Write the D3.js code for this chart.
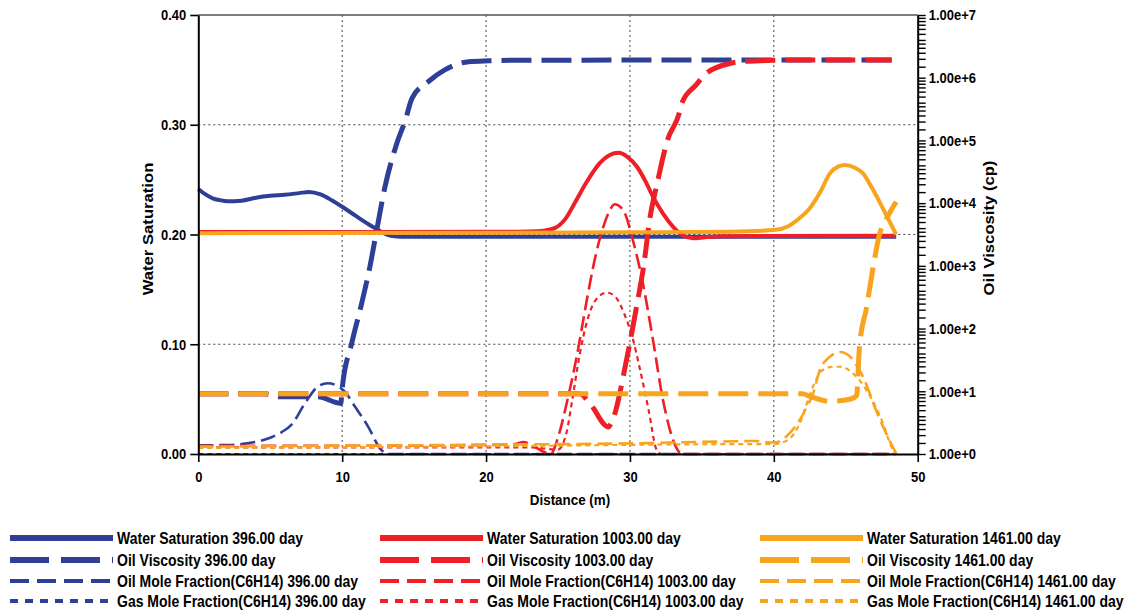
<!DOCTYPE html>
<html><head><meta charset="utf-8">
<script src="https://cdn.jsdelivr.net/npm/d3@7"></script>
<style>
body{margin:0;background:#fff;}
svg{display:block;font-family:"Liberation Sans",Arial,sans-serif;}
</style>
</head><body>
<svg id="chart" width="1129" height="613"></svg>
<script>
// ---------- data ----------
const xTicks = [0, 10, 20, 30, 40, 50];
const yTicks = [0, 0.1, 0.2, 0.3, 0.4];
const yRightMajor = [1, 10, 100, 1e3, 1e4, 1e5, 1e6, 1e7];
const days = ["396.00", "1003.00", "1461.00"];
const seriesNames = ["Water Saturation", "Oil Viscosity", "Oil Mole Fraction(C6H14)", "Gas Mole Fraction(C6H14)"];
const xTitle = "Distance (m)";
const yTitle = "Water Saturation";
const yRightTitle = "Oil Viscosity (cp)";

// Water saturation [distance, value]
const ws396 = [[0,0.2415],[0.5,0.2365],[1,0.233],[1.5,0.2313],[2,0.2303],[3,0.2308],[4,0.2335],[5,0.2353],[6,0.2362],[7,0.2377],[7.7,0.2388],[8.5,0.2365],[9.3,0.231],[10,0.2253],[11,0.2165],[12,0.208],[12.6,0.2035],[13.3,0.199],[14,0.198],[20,0.198],[48.5,0.198]];
const ws1003 = [[0,0.2023],[10,0.2023],[20,0.2024],[23,0.2028],[24,0.2035],[24.8,0.206],[25.5,0.214],[26.3,0.232],[27,0.248],[27.9,0.265],[28.6,0.2725],[29.2,0.2745],[29.8,0.271],[30.5,0.2615],[31.1,0.248],[31.6,0.2345],[32.3,0.219],[33,0.207],[33.7,0.199],[34.4,0.1965],[35.2,0.1975],[36.5,0.1985],[48.5,0.1988]];
const ws1461 = [[0,0.2012],[20,0.2015],[30,0.202],[37,0.2026],[40,0.204],[41,0.2075],[41.8,0.215],[42.5,0.224],[43.2,0.238],[43.9,0.2557],[44.5,0.262],[44.95,0.2633],[45.6,0.261],[46.2,0.2557],[46.8,0.243],[47.4,0.2284],[48,0.213],[48.5,0.2]];

// Oil viscosity (cp) [distance, value]
const visc396 = [[0,9.1],[4.6,9.1],[5.6,8.2],[8.3,8.2],[9.9,6.4],[10,11],[10.66,58],[11.35,250],[11.93,980],[12.4,3700],[12.97,18000],[13.8,90000],[14.4,214000],[14.85,470000],[16,870000],[17.1,1320000],[18.8,1800000],[20.2,1860000],[22,1900000],[48.2,1920000]];
const visc1003 = [[0,9.1],[26.5,9.1],[27.2,6.5],[28.5,2.7],[28.7,3.1],[29.8,35],[30.5,250],[30.95,980],[31.4,6000],[31.9,21000],[32.6,100000],[33.4,260000],[33.6,390000],[34.6,770000],[35.3,1170000],[37,1700000],[37.9,1820000],[39.5,1880000],[41,1920000],[48.2,1920000]];
const visc1461 = [[0,9.1],[42,9.1],[42.5,8.3],[43.9,6.9],[45.4,7.6],[45.75,8.5],[45.95,50],[46.45,220],[46.95,1100],[47.3,2900],[47.85,5700],[48.5,10500]];

// Oil mole fraction (C6H14) [distance, value]
const omf396 = [[0,0.008],[1,0.008],[2,0.0082],[3,0.009],[4,0.011],[5,0.0148],[5.8,0.02],[6.5,0.027],[7.4,0.046],[8.3,0.0613],[9,0.0645],[9.6,0.0625],[10.2,0.0565],[10.9,0.043],[11.8,0.025],[12.7,0.004],[13.2,0],[48.5,0]];
const omf1003 = [[0,0.0075],[10,0.0075],[18,0.008],[20,0.0082],[22,0.009],[22.6,0.011],[23.2,0.008],[24,0.002],[24.5,0],[25,0.015],[25.6,0.046],[26.3,0.0887],[27,0.14],[27.6,0.18],[28.15,0.207],[28.6,0.222],[28.95,0.2275],[29.3,0.2255],[29.55,0.222],[30.2,0.195],[30.9,0.1555],[31.6,0.104],[32.3,0.049],[33,0.0128],[33.5,0.001],[34,0],[48.5,0]];
const omf1461 = [[0,0.0067],[10,0.0075],[20,0.0085],[30,0.0097],[35,0.011],[38.6,0.0118],[40,0.0105],[40.6,0.013],[41.1,0.019],[41.8,0.031],[42.3,0.043],[42.7,0.054],[43.2,0.0765],[43.9,0.0887],[44.6,0.093],[45.3,0.0887],[46.2,0.0704],[47.1,0.04],[47.8,0.019],[48.5,0.0006]];

// Gas mole fraction (C6H14) [distance, value]
const gmf396 = [[0,0],[48.5,0]];
const gmf1003 = [[0,0.006],[23,0.006],[25,0.004],[25.6,0.02],[26,0.05],[26.5,0.09],[27,0.12],[27.6,0.14],[28.4,0.147],[29,0.143],[29.6,0.128],[30.2,0.105],[30.7,0.077],[31.3,0.04],[31.85,0.004],[32.2,0],[48.5,0]];
const gmf1461 = [[0,0.0055],[20,0.007],[38,0.009],[40,0.009],[41,0.013],[41.8,0.028],[42.4,0.05],[42.8,0.064],[43.4,0.0765],[44.1,0.0795],[44.6,0.0795],[45.5,0.0735],[46.45,0.058],[47.4,0.034],[48.3,0.0036],[48.5,0]];

// ---------- styles ----------
const colors = ["#2e3f98", "#ee1f26", "#f8a41c"];
const lineStyles = [
  {w: 4,   dash: null,   lw: 6, ldash: null},
  {w: 5,   dash: "30 10", lw: 6, ldash: "39 12"},
  {w: 2.6, dash: "15 6", lw: 4, ldash: "19 8"},
  {w: 2.2, dash: "5 4",  lw: 4, ldash: "8 7"}
];
const groups = [
  [ws396, visc396, omf396, gmf396],
  [ws1003, visc1003, omf1003, gmf1003],
  [ws1461, visc1461, omf1461, gmf1461]
];
const onRight = [false, true, false, false];

// ---------- layout ----------
const svg = d3.select("#chart");
const L = 198.3, R = 917.7, T = 15, B = 454;
const SY = 1.15; // vertical text stretch
const x = d3.scaleLinear().domain([0, 50]).range([L, R]);
const yL = d3.scaleLinear().domain([0, 0.4]).range([B, T]);
const yR = d3.scaleLog().domain([1, 1e7]).range([B, T]);

// grid
const grid = svg.append("g");
grid.selectAll("line.v").data(xTicks.filter(d => d > 0 && d < 50)).join("line")
  .attr("x1", d => x(d)).attr("x2", d => x(d)).attr("y1", T).attr("y2", B)
  .attr("stroke", "#444").attr("stroke-width", 1).attr("stroke-dasharray", "2 3");
grid.selectAll("line.h").data(yTicks.filter(d => d > 0 && d < 0.4)).join("line")
  .attr("x1", L).attr("x2", R).attr("y1", d => yL(d)).attr("y2", d => yL(d))
  .attr("stroke", "#444").attr("stroke-width", 1).attr("stroke-dasharray", "2 3");
grid.append("line").attr("x1", L).attr("x2", R).attr("y1", yL(0.4)).attr("y2", yL(0.4))
  .attr("stroke", "#555").attr("stroke-width", 1.5);

// series
const plot = svg.append("g");
groups.forEach((grp, gi) => {
  grp.forEach((data, si) => {
    const ys = onRight[si] ? yR : yL;
    const line = d3.line().x(d => x(d[0])).y(d => ys(d[1])).curve(d3.curveMonotoneX);
    const st = lineStyles[si];
    plot.append("path").datum(data)
      .attr("d", line).attr("fill", "none")
      .attr("stroke", colors[gi]).attr("stroke-width", st.w)
      .attr("stroke-dasharray", st.dash)
      .attr("stroke-linejoin", "round");
  });
});

// axes
function styleAxis(g) {
  g.select(".domain").attr("stroke", "#000").attr("stroke-width", 2);
  g.selectAll(".tick line").attr("stroke", "#000").attr("stroke-width", 1.6);
  g.selectAll("text").attr("fill", "#000").attr("font-size", 13).attr("font-weight", "bold")
    .attr("font-family", "'Liberation Sans', Arial, sans-serif")
    .attr("transform", `scale(1,${SY})`);
}
const axL = svg.append("g").attr("transform", `translate(${L},0)`)
  .call(d3.axisLeft(yL).tickValues(yTicks).tickFormat(d3.format(".2f")).tickSize(8).tickPadding(4).tickSizeOuter(0));
styleAxis(axL);
const axB = svg.append("g").attr("transform", `translate(0,${B})`)
  .call(d3.axisBottom(x).tickValues(xTicks).tickFormat(d3.format("d")).tickSize(8).tickPadding(7).tickSizeOuter(0));
styleAxis(axB);

const minorMult = [1.5, 2, 2.5, 3, 3.5, 4, 5, 6, 7, 8, 9];
const rTicks = [];
yRightMajor.forEach((m, i) => {
  rTicks.push(m);
  if (i < yRightMajor.length - 1) minorMult.forEach(k => rTicks.push(m * k));
});
const axR = svg.append("g").attr("transform", `translate(${R},0)`)
  .call(d3.axisRight(yR).tickValues(rTicks)
    .tickFormat(d => yRightMajor.includes(d) ? d3.format(".2e")(d) : "")
    .tickSize(8).tickPadding(3).tickSizeOuter(0));
styleAxis(axR);
axR.selectAll(".tick line").attr("stroke-width", 1.4);

// axis titles
function title(txt, cx, cy, rot) {
  svg.append("text").text(txt)
    .attr("transform", `translate(${cx},${cy}) scale(1,${SY})${rot ? " rotate(-90)" : ""}`)
    .attr("text-anchor", "middle").attr("dy", "0.35em")
    .attr("font-size", rot ? 14.5 : 13.4).attr("font-weight", "bold").attr("fill", "#000");
}
title(xTitle, 570, 500, false);
title(yTitle, 148, 229, true);
title(yRightTitle, 989, 228, true);

// legend
const legCols = [10, 380, 760];
const legRows = [538, 560, 581, 601];
const leg = svg.append("g");
groups.forEach((grp, gi) => {
  seriesNames.forEach((nm, si) => {
    const st = lineStyles[si];
    const lx = legCols[gi], ly = legRows[si];
    leg.append("line").attr("x1", lx).attr("x2", lx + 103).attr("y1", ly).attr("y2", ly)
      .attr("stroke", colors[gi]).attr("stroke-width", st.lw)
      .attr("stroke-dasharray", st.ldash);
    leg.append("text").text(`${nm} ${days[gi]} day`)
      .attr("transform", `translate(${lx + 107},${ly}) scale(1,${SY})`)
      .attr("dy", "0.35em").attr("font-size", 14).attr("font-weight", "bold").attr("fill", "#000");
  });
});
</script>
</body></html>
